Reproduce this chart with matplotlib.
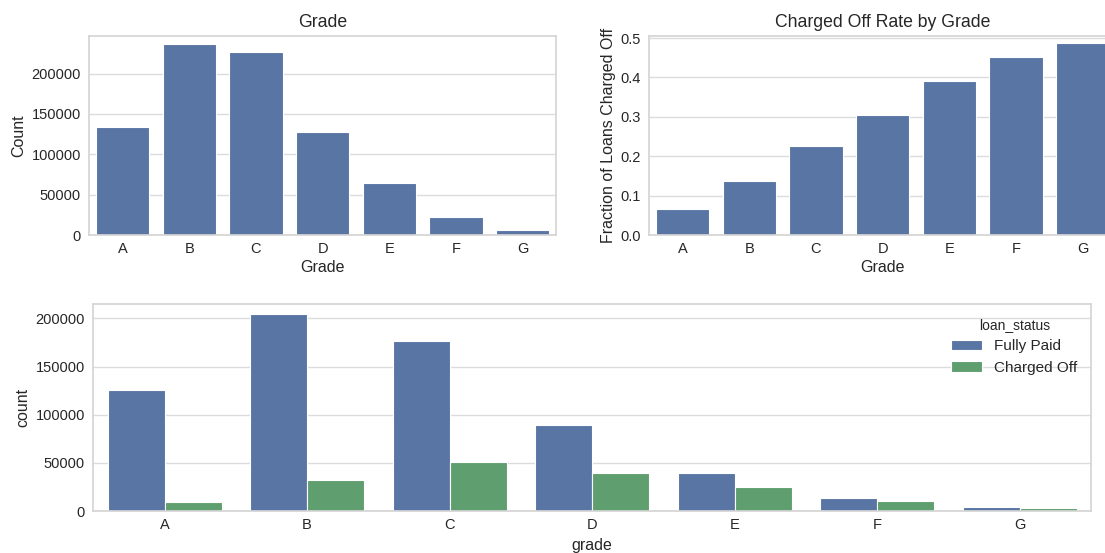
import numpy as np
import matplotlib
matplotlib.use("Agg")
import matplotlib.pyplot as plt
import seaborn as sns

sns.set_theme(style="whitegrid")
plt.rcParams['font.family'] = ['Liberation Sans', 'DejaVu Sans']

grades = ["A", "B", "C", "D", "E", "F", "G"]

# loans per grade
grade_counts = [133800, 237300, 227000, 127500, 64200, 22800, 6200]

# fraction charged off per grade
charged_off_rate = [0.065, 0.137, 0.225, 0.305, 0.390, 0.452, 0.487]

# counts by loan status
status_names = ["Fully Paid", "Charged Off"]
fully_paid = [125300, 204600, 176800, 89000, 39800, 13200, 4200]
charged_off = [9300, 31900, 50500, 39800, 25300, 10700, 2800]

blue = "#5975a4"
green = "#5f9e6e"

fig = plt.figure(figsize=(11.05, 5.53), dpi=100)

ax1 = fig.add_axes([0.0808, 0.575, 0.4224, 0.3604])
ax2 = fig.add_axes([0.5876, 0.575, 0.4224, 0.3604])
ax3 = fig.add_axes([0.0844, 0.0759, 0.9029, 0.3743])

x = np.arange(len(grades))

# grade counts
ax1.bar(x, grade_counts, width=0.8, color=blue, edgecolor="white", linewidth=0.8)
ax1.set_xlim(-0.5, 6.5)
ax1.set_ylim(0, 247000)
ax1.set_xticks(x)
ax1.set_xticklabels(grades)
ax1.set_title("Grade", fontsize=12.7)
ax1.set_xlabel("Grade", fontsize=11.5, labelpad=3)
ax1.set_ylabel("Count", fontsize=11.5)

# charged off rate
ax2.bar(x, charged_off_rate, width=0.8, color=blue, edgecolor="white", linewidth=0.8)
ax2.set_xlim(-0.5, 6.5)
ax2.set_ylim(0, 0.506)
ax2.set_xticks(x)
ax2.set_xticklabels(grades)
ax2.set_yticks([0.0, 0.1, 0.2, 0.3, 0.4, 0.5])
ax2.set_title("Charged Off Rate by Grade", fontsize=12.7)
ax2.set_xlabel("Grade", fontsize=11.5, labelpad=3)
ax2.set_ylabel("Fraction of Loans Charged Off", fontsize=11.5, labelpad=3)

# by status
w = 0.4
ax3.bar(x - w / 2, fully_paid, width=w, color=blue, edgecolor="white", linewidth=0.8, label=status_names[0])
ax3.bar(x + w / 2, charged_off, width=w, color=green, edgecolor="white", linewidth=0.8, label=status_names[1])
ax3.set_xlim(-0.5, 6.5)
ax3.set_ylim(0, 215000)
ax3.set_xticks(x)
ax3.set_xticklabels(grades)
ax3.set_yticks([0, 50000, 100000, 150000, 200000])
ax3.set_xlabel("grade", fontsize=11.5, labelpad=4)
ax3.set_ylabel("count", fontsize=11.5)
ax3.legend(title="loan_status", loc="upper right", frameon=False, fontsize=11, title_fontsize=10)

for ax in (ax1, ax2, ax3):
    ax.tick_params(labelsize=10.5, length=0)
    ax.tick_params(axis="x", pad=5)
    ax.tick_params(axis="y", pad=6)
    for s in ax.spines.values():
        s.set_color("#d5d5d5")
    ax.grid(axis="x", visible=False)
    ax.grid(axis="y", color="#dcdcdc")

fig.savefig("out.png", dpi=100)
